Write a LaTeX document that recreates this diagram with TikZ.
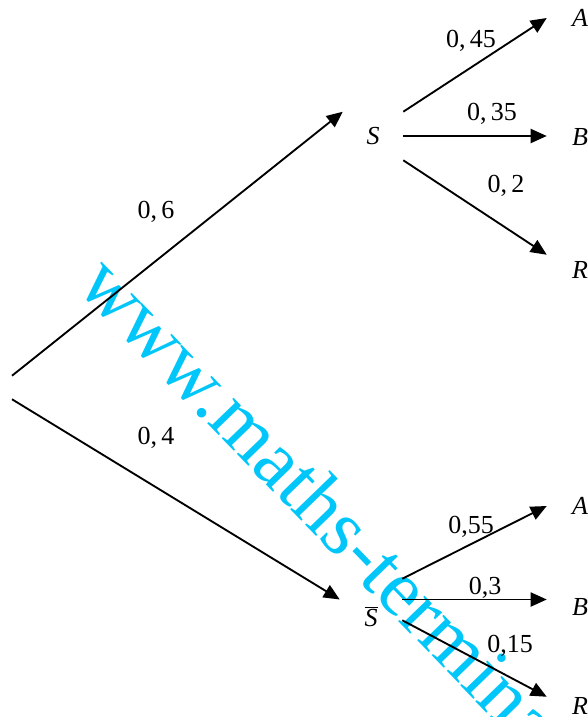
\documentclass[tikz,border=0pt]{standalone}
\usepackage{fontspec}
\setmainfont{Liberation Serif}
\usepackage{xcolor}
\usetikzlibrary{arrows.meta}
\definecolor{TreeInk}{gray}{0}
\definecolor{WebCyan}{RGB}{0,198,250}

\begin{document}
\begin{tikzpicture}[
  x=0.75pt,y=-0.75pt,
  font=\fontsize{19.5}{22}\selectfont,
  hub/.style={inner sep=0pt,minimum width=45pt,minimum height=36pt},
  leaf/.style={inner sep=0pt,minimum width=49.5pt},
  prob/.style={inner sep=0pt},
  branch/.style={-{Triangle[length=12pt,width=10.5pt]},line width=1.4pt,draw=TreeInk},
  stamp/.style={text=WebCyan,font=\fontsize{60}{60}\selectfont,rotate=-46,anchor=base west,inner sep=0pt}]
  \useasboundingbox (0,0) rectangle (588,717);
  % watermark
  \node[stamp] (mark) at (75.5,287) {www.maths-termina};
  % root and the two first-level events
  \node[inner sep=0pt,minimum width=0pt,minimum height=17.25pt] (O) at (12,387.5) {};
  \node[hub] (S) at (373,136) {\textit{S}};
  \node[hub,minimum width=46.5pt,minimum height=30.75pt,
    label={[name=SbName,yshift=-13pt]center:$\overline{\textit{S}}$}] (Sb) at (371,599.5) {};
  % leaves
  \node[leaf] (A1) at (580,18) {\textit{A}};
  \node[leaf] (B1) at (580,137) {\textit{B}};
  \node[leaf,minimum height=22.5pt] (R1) at (580,270) {\textit{R}};
  \node[leaf] (A2) at (580,506) {\textit{A}};
  \node[leaf] (B2) at (580,607) {\textit{B}};
  \node[leaf,minimum height=13.5pt] (R2) at (580,706) {\textit{R}};
  % branches
  \draw[branch] (O.north) -- (S.north west);
  \draw[branch] (O.south) -- (Sb.west);
  \draw[branch] (S.north east) -- (A1.west);
  \draw[branch] (S.east) -- (S.east -| B1.west);
  \draw[branch] (S.south east) -- (R1.north west);
  \draw[branch] (Sb.north east) -- (A2.west);
  \draw[branch] (Sb.east) -- (Sb.east -| B2.west);
  \draw[branch] (Sb.south east) -- (R2.north west);
  % probabilities
  \node[prob] (p6) at (156,212) {0,\,6};
  \node[prob] (p4) at (156,438) {0,\,4};
  \node[prob] (p45) at (471,41) {0,\,45};
  \node[prob] (p35) at (492,114) {0,\,35};
  \node[prob] (p2) at (506,186) {0,\,2};
  \node[prob] (p55) at (471,527) {0,55};
  \node[prob] (p3) at (485,588) {0,3};
  \node[prob] (p15) at (510,646) {0,15};
\end{tikzpicture}
\end{document}
